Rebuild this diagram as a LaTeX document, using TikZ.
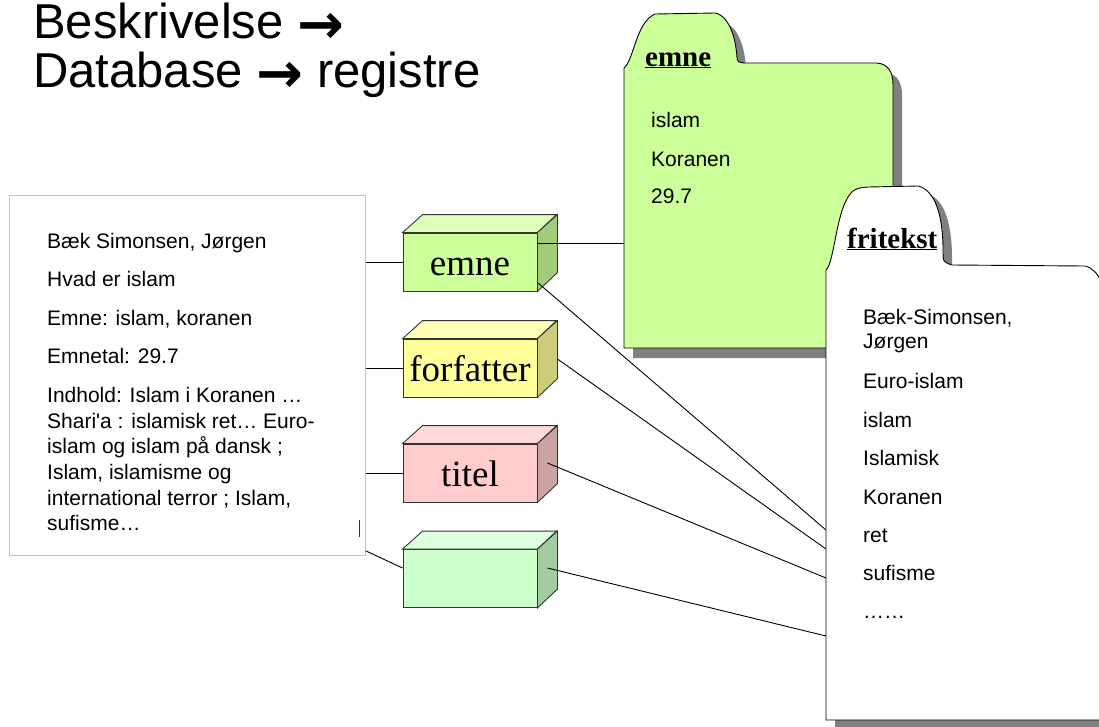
\documentclass[tikz,border=0pt]{standalone}
\usepackage{fontspec}
\setmainfont{Liberation Sans}
\newfontfamily\serifx{Liberation Serif}
\newfontfamily\arrowf{DejaVu Sans}
\newcommand{\tarr}{{\arrowf\bfseries\fontsize{56}{56}\selectfont\smash{\raisebox{-5pt}{→}}}}
\definecolor{emneF}{HTML}{CCFF99}
\definecolor{emneT}{HTML}{DDFFB8}
\definecolor{emneR}{HTML}{A3CC7A}
\definecolor{forfF}{HTML}{FFFF99}
\definecolor{forfT}{HTML}{FFFFB8}
\definecolor{forfR}{HTML}{CCCC7A}
\definecolor{titF}{HTML}{FFCCCC}
\definecolor{titT}{HTML}{FFDADA}
\definecolor{titR}{HTML}{CCA3A3}
\definecolor{grnF}{HTML}{CCFFCC}
\definecolor{grnT}{HTML}{DDFFDD}
\definecolor{grnR}{HTML}{A3CCA3}
\definecolor{shadowc}{HTML}{808080}
\definecolor{boxgray}{HTML}{C4C4C4}
\definecolor{edgec}{HTML}{333333}
\begin{document}
\begin{tikzpicture}[x=1pt,y={(0pt,-1pt)},
  cube/.style={draw=edgec, line width=0.9pt, minimum width=134pt, minimum height=58pt, inner sep=0pt, text height=26pt, text depth=0pt, font=\serifx\fontsize{37}{40}\selectfont},
  txt/.style={anchor=base west, inner sep=0pt, font=\fontsize{21}{25}\selectfont},
  ttl/.style={anchor=north west, align=left, inner sep=0pt, font=\fontsize{49}{49}\selectfont},
  fhead/.style={anchor=base west, inner sep=0pt, font=\serifx\bfseries\fontsize{29}{32}\selectfont},
  conn/.style={black, line width=0.9pt},
  folderline/.style={draw=black, line width=0.9pt}]
\useasboundingbox (0,0) rectangle (1099,726);
\clip (0,0) rectangle (1099,726);

% title
\node[ttl] (title) at (33,2.3) {Beskrivelse \tarr\\Database \tarr\ registre};

% description box
\node[draw=boxgray, line width=0.9pt, minimum width=356pt, minimum height=360pt, inner sep=0pt, anchor=north west] (desc) at (9,195) {};
\node[txt] (d1) at (47,248) {Bæk Simonsen, Jørgen};
\node[txt] (d2) at (47,286) {Hvad er islam};
\node[txt] (d3) at (47,325) {Emne: islam, koranen};
\node[txt] (d4) at (47,363) {Emnetal: 29.7};
\node[txt] (d5) at (47,402) {Indhold: Islam i Koranen …};
\node[txt] (d6) at (47,428) {Shari\textquotesingle a : islamisk ret… Euro-};
\node[txt] (d7) at (47,453) {islam og islam på dansk ;};
\node[txt] (d8) at (47,479) {Islam, islamisme og};
\node[txt] (d9) at (47,505) {international terror ; Islam,};
\node[txt] (d10) at (47,530) {sufisme…};
\draw[edgec, line width=0.9pt] ([xshift=-6pt,yshift=36pt]desc.south east) -- ([xshift=-6pt,yshift=19pt]desc.south east);

% emne folder
\fill[shadowc, shift={(9,10)}] (624,348) -- (624,68) .. controls (634,60) and (636,22) .. (655,14) -- (715,13) .. controls (730,16) and (736,40) .. (737,58) .. controls (738,62) .. (744,63) -- (877,63) .. controls (888,64) and (893,72) .. (893,85) -- (893,348) -- cycle;
\draw[folderline, fill=emneF] (624,348) -- (624,68) .. controls (634,60) and (636,22) .. (655,14) -- (715,13) .. controls (730,16) and (736,40) .. (737,58) .. controls (738,62) .. (744,63) -- (877,63) .. controls (888,64) and (893,72) .. (893,85) -- (893,348) -- cycle;
\node[minimum width=269pt, minimum height=281pt, inner sep=0pt, anchor=north west] (efold) at (624,67) {};
\node[fhead] (eh) at (645,66) {\underline{emne}};
\node[txt] (e1) at (651,127) {islam};
\node[txt] (e2) at (651,166) {Koranen};
\node[txt] (e3) at (651,203) {29.7};

% fritekst folder
\fill[shadowc, shift={(9,8)}] (826,720) -- (826,270) .. controls (835,262) and (836,205) .. (853,191) .. controls (858,188) .. (868,187) -- (918,186) .. controls (935,190) and (943,215) .. (943,250) .. controls (943,262) .. (952,265) -- (1085,266) .. controls (1093,268) and (1098,274) .. (1101,282) -- (1101,720) -- cycle;
\draw[folderline, fill=white] (826,720) -- (826,270) .. controls (835,262) and (836,205) .. (853,191) .. controls (858,188) .. (868,187) -- (918,186) .. controls (935,190) and (943,215) .. (943,250) .. controls (943,262) .. (952,265) -- (1085,266) .. controls (1093,268) and (1098,274) .. (1101,282) -- (1101,720) -- cycle;
\node[minimum width=275pt, minimum height=454pt, inner sep=0pt, anchor=north west] (ffold) at (826,266) {};
\node[fhead] (fh) at (847,248) {\underline{fritekst}};
\node[txt] (f1) at (863,324) {Bæk-Simonsen,};
\node[txt] (f2) at (863,348) {Jørgen};
\node[txt] (f3) at (863,388) {Euro-islam};
\node[txt] (f4) at (863,427) {islam};
\node[txt] (f5) at (863,465) {Islamisk};
\node[txt] (f6) at (863,504) {Koranen};
\node[txt] (f7) at (863,542) {ret};
\node[txt] (f8) at (863,580) {sufisme};
\node[txt] (f9) at (863,618) {……};
\coordinate (fa) at (826,530);
\coordinate (fb) at (826,549);
\coordinate (fc) at (826,578);
\coordinate (fd) at (826,636);

% cubes
\node[cube, fill=emneF] (cemne) at (470,262) {emne};
\node[cube, fill=forfF] (cforf) at (470,368) {forfatter};
\node[cube, fill=titF] (ctitel) at (470,473) {titel};
\node[cube, fill=grnF] (cgreen) at (470,578.5) {};
\foreach \c/\t/\r in {cemne/emneT/emneR, cforf/forfT/forfR, ctitel/titT/titR, cgreen/grnT/grnR}{
  \draw[edgec, line width=0.9pt, fill=\t] (\c.north west) -- ++(20,-18) -- ++(134,0) -- (\c.north east) -- cycle;
  \draw[edgec, line width=0.9pt, fill=\r] (\c.north east) -- ++(20,-18) -- ++(0,58) -- (\c.south east) -- cycle;
}

% connectors from description
\draw[conn] (cemne.west -| desc.east) -- (cemne.west);
\draw[conn] (cforf.west -| desc.east) -- (cforf.west);
\draw[conn] (ctitel.west -| desc.east) -- (ctitel.west);
\draw[conn] ([yshift=5pt]desc.south east) -- ([yshift=10.5pt]cgreen.west);

% connectors to registers
\draw[conn] ([yshift=19pt]cemne.east) -- ([yshift=19pt]cemne.east -| efold.west);
\draw[conn] ([yshift=9pt]cemne.south east) -- (fa);
\draw[conn] ([xshift=20pt,yshift=9pt]cforf.east) -- (fb);
\draw[conn] ([xshift=10pt,yshift=10pt]ctitel.east) -- (fc);
\draw[conn] ([xshift=10pt,yshift=10.5pt]cgreen.east) -- (fd);
\end{tikzpicture}
\end{document}
